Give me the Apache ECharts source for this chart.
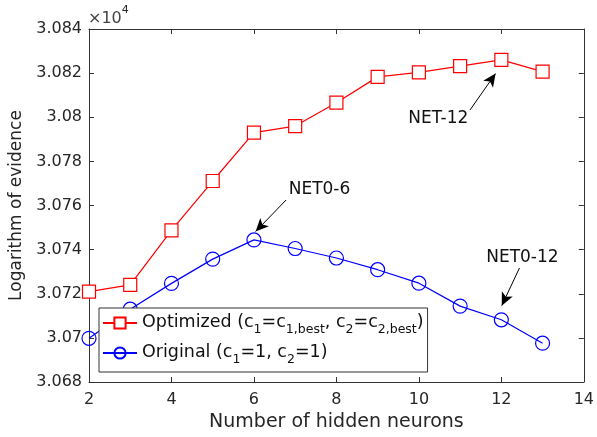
<!DOCTYPE html>
<html><head><meta charset="utf-8">
<script src="https://cdn.jsdelivr.net/npm/echarts@6/dist/echarts.min.js"></script>
<style>html,body{margin:0;padding:0;background:#fff}#c{width:597px;height:437px}</style>
</head><body><div id="c"></div>
<script>
var neurons = [2,3,4,5,6,7,8,9,10,11,12,13];
var optimized = [3.0721,3.0724,3.07487,3.07711,3.0793,3.0796,3.08066,3.08183,3.08203,3.08232,3.0826,3.08207];
var original = [3.06998,3.0713,3.07247,3.07357,3.07444,3.07405,3.07362,3.07309,3.07248,3.07144,3.07082,3.06976];
var xTicks = [2,4,6,8,10,12,14];
var yTicks = [3.068,3.07,3.072,3.074,3.076,3.078,3.08,3.082,3.084];
var annotLabels = ['NET-12','NET0-6','NET0-12'];
var annotTextPos = [[10.47,3.07992],[7.59,3.0767],[12.51,3.07366]];
var annotArrowFrom = [[11.24,3.08033],[6.78,3.07625],[12.44,3.07317]];
var annotArrowTo = [[11.86,3.08198],[6.04,3.07482],[12.01,3.07146]];

var FONT = 'DejaVu Sans';
var axisCol = '#333';
function pairs(xs, ys){ return xs.map(function(x,i){return [x, ys[i]];}); }

var chart = echarts.init(document.getElementById('c'), null, {renderer:'canvas'});
var option = {
  animation:false,
  textStyle:{fontFamily:FONT},
  grid:{left:87, top:29, right:10, bottom:55, containLabel:false},
  xAxis:[{
    type:'value', min:2, max:14, interval:2, position:'bottom',
    name:'Number of hidden neurons', nameLocation:'middle', nameGap:30,
    nameTextStyle:{fontSize:19, color:'#262626', fontFamily:FONT},
    axisLine:{show:true, onZero:false, lineStyle:{color:axisCol, width:1}},
    axisTick:{show:true, inside:true, length:5, lineStyle:{color:axisCol}},
    axisLabel:{fontSize:16, color:'#262626', margin:10, fontFamily:FONT},
    splitLine:{show:false}
  },{
    type:'value', min:2, max:14, interval:2, position:'top',
    axisLine:{show:true, onZero:false, lineStyle:{color:axisCol, width:1}},
    axisTick:{show:true, inside:true, length:5, lineStyle:{color:axisCol}},
    axisLabel:{show:false}, splitLine:{show:false}
  }],
  yAxis:[{
    type:'value', min:3.068, max:3.084, interval:0.002, position:'left',
    name:'Logarithm of evidence', nameLocation:'middle', nameGap:64,
    nameTextStyle:{fontSize:17, color:'#262626', fontFamily:FONT},
    axisLine:{show:true, onZero:false, lineStyle:{color:axisCol, width:1}},
    axisTick:{show:true, inside:true, length:5, lineStyle:{color:axisCol}},
    axisLabel:{fontSize:16, color:'#262626', margin:7, fontFamily:FONT,
      formatter:function(v){ return String(parseFloat(v.toFixed(3))); }},
    splitLine:{show:false}
  },{
    type:'value', min:3.068, max:3.084, interval:0.002, position:'right',
    axisLine:{show:true, onZero:false, lineStyle:{color:axisCol, width:1}},
    axisTick:{show:true, inside:true, length:5, lineStyle:{color:axisCol}},
    axisLabel:{show:false}, splitLine:{show:false}
  }],
  legend:{
    orient:'vertical', left:99, top:308,
    data:['Optimized','Original'],
    backgroundColor:'#fff', borderColor:'#333', borderWidth:1,
    padding:[5,4,6,3], itemGap:7, itemWidth:34, itemHeight:14,
    formatter:function(n){
      if(n==='Optimized') return '{m|Optimized (c}{s|1}{m|=c}{s|1,best}{m|, c}{s|2}{m|=c}{s|2,best}{m|)}';
      return '{m|Original (c}{s|1}{m|=1, c}{s|2}{m|=1)}';
    },
    textStyle:{fontFamily:FONT, color:'#111', fontSize:17,
      rich:{
        m:{fontSize:17.5, fontFamily:FONT, color:'#111', lineHeight:22, verticalAlign:'bottom', padding:[0,0,3,0]},
        s:{fontSize:12.5, fontFamily:FONT, color:'#111', lineHeight:22, verticalAlign:'bottom', padding:[0,0,-2,0]}
      }}
  },
  series:[{
    name:'Optimized', type:'line', data:pairs(neurons, optimized),
    symbol:'rect', symbolSize:13, showAllSymbol:true,
    lineStyle:{color:'#ff0000', width:1.2},
    itemStyle:{color:'#fff', borderColor:'#ff0000', borderWidth:1.2},
    emphasis:{disabled:true}
  },{
    name:'Original', type:'line', data:pairs(neurons, original),
    symbol:'circle', symbolSize:14, showAllSymbol:true,
    lineStyle:{color:'#0000ff', width:1.2},
    itemStyle:{color:'rgba(255,255,255,0)', borderColor:'#0000ff', borderWidth:1.2},
    emphasis:{disabled:true}
  },{
    name:'annot', type:'scatter', data:[], silent:true,
    markLine:{
      silent:true, symbol:['none','arrow'], symbolSize:[9,13], precision:6,
      lineStyle:{color:'#000', width:1, type:'solid'},
      label:{show:false},
      data: annotArrowFrom.map(function(f,i){ return [{coord:f},{coord:annotArrowTo[i]}]; })
    },
    markPoint:{
      silent:true, symbol:'rect', symbolSize:1, itemStyle:{color:'rgba(0,0,0,0)'},
      label:{show:true, position:'inside', color:'#111', fontSize:17, fontFamily:FONT,
        formatter:function(p){ return p.name; }},
      data: annotLabels.map(function(t,i){ return {name:t, coord:annotTextPos[i]}; })
    }
  }],
  graphic:[{
    type:'text', left:88, top:5,
    style:{text:'{a|×10}{b|4}', fontFamily:FONT,
      rich:{a:{fontSize:16, fontFamily:FONT, fill:'#444', verticalAlign:'bottom', lineHeight:22},
            b:{fontSize:11, fontFamily:FONT, fill:'#262626', verticalAlign:'top', lineHeight:22}}}
  }]
};
chart.setOption(option);
</script></body></html>
